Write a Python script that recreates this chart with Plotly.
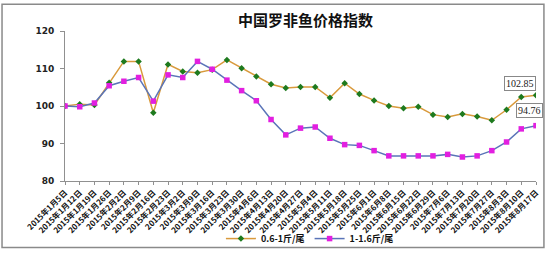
import plotly.graph_objects as go

dates = ["1月5日", "1月12日", "1月19日", "1月26日", "2月2日", "2月9日", "2月16日", "2月23日",
         "3月2日", "3月9日", "3月16日", "3月23日", "3月30日", "4月6日", "4月13日", "4月20日",
         "4月27日", "5月4日", "5月11日", "5月18日", "5月25日", "6月1日", "6月8日", "6月15日",
         "6月22日", "6月29日", "7月6日", "7月13日", "7月20日", "7月27日", "8月3日", "8月10日", "8月17日"]
categories = ["2015年" + d for d in dates]

small_fish = [100.0, 100.5, 100.3, 106.2, 111.9, 111.9, 98.2, 111.1, 109.2, 108.9, 109.7, 112.3,
              110.1, 107.9, 105.8, 104.8, 105.1, 105.1, 102.2, 106.1, 103.2, 101.5, 100.0, 99.4,
              99.8, 97.7, 97.1, 97.9, 97.2, 96.2, 99.0, 102.4, 102.85]
large_fish = [100.0, 99.8, 100.8, 105.4, 106.6, 107.6, 101.3, 108.3, 107.6, 111.9, 109.8, 106.9,
              104.1, 101.4, 96.4, 92.3, 94.1, 94.4, 91.4, 89.7, 89.5, 88.1, 86.7, 86.7,
              86.7, 86.7, 87.1, 86.4, 86.7, 88.1, 90.4, 93.9, 94.76]

series_names = ["0.6-1斤/尾", "1-1.6斤/尾"]
x_idx = list(range(len(categories)))

# pixel geometry helpers (plot area 65..540 x, 31..190.7 y)
L, R, T, B = 65, 540, 31, 190.7
def px(x):
    return (x - L) / (R - L)
def py(y):
    return (B - y) / (B - T)

fig = go.Figure()
fig.add_trace(go.Scatter(
    x=x_idx, y=small_fish, name=series_names[0], mode="lines+markers",
    line=dict(color="#D99A3C", width=1.5),
    marker=dict(symbol="diamond", size=5, color="#1E7A1E"),
))
fig.add_trace(go.Scatter(
    x=x_idx, y=large_fish, name=series_names[1], mode="lines+markers",
    line=dict(color="#5A74B8", width=1.5),
    marker=dict(symbol="square", size=5.5, color="#E21FE0"),
))

fig.add_annotation(x=x_idx[-1], y=small_fish[-1], text=f"{small_fish[-1]:.2f}", showarrow=False,
                   xshift=-16, yshift=12, font=dict(family="Liberation Serif", size=10, color="#222"),
                   bordercolor="#888", borderwidth=1, borderpad=1, bgcolor="white")
fig.add_annotation(x=x_idx[-1], y=large_fish[-1], text=f"{large_fish[-1]:.2f}", showarrow=False,
                   xshift=-7, yshift=15, font=dict(family="Liberation Serif", size=10, color="#222"),
                   bordercolor="#888", borderwidth=1, borderpad=1, bgcolor="white")

fig.add_annotation(xref="paper", yref="paper", x=px(307.5), y=py(19), text="<b>中国罗非鱼价格指数</b>",
                   showarrow=False, xanchor="center", yanchor="middle",
                   font=dict(family="Noto Sans CJK SC", size=15, color="#111"))

fig.add_shape(type="rect", xref="paper", yref="paper",
              x0=px(1.5), x1=px(548), y0=py(261.5), y1=py(2.5),
              line=dict(color="#8a8a8a", width=1.5), layer="below")

fig.update_layout(
    width=550, height=263,
    margin=dict(l=L, r=550 - R, t=T, b=263 - B),
    paper_bgcolor="white", plot_bgcolor="white",
    showlegend=True,
    legend=dict(orientation="h", x=px(312), y=py(252), xanchor="center", yanchor="middle",
                font=dict(family="Noto Sans CJK SC", size=9, color="#111", weight="bold"),
                itemwidth=30, bgcolor="rgba(0,0,0,0)", tracegroupgap=0),
    xaxis=dict(range=[0, len(categories) - 1], tickmode="array", tickvals=x_idx, ticktext=categories,
               tickangle=-45, showgrid=False, showline=True, linecolor="#909090", linewidth=1,
               ticks="outside", ticklen=3, tickcolor="#909090",
               tickfont=dict(family="Noto Sans CJK SC", size=8, color="#111", weight="bold"),
               zeroline=False),
    yaxis=dict(range=[80, 120], tickvals=[80, 90, 100, 110, 120], showgrid=False, showline=True,
               linecolor="#909090", linewidth=1, ticks="outside", ticklen=4, tickcolor="#909090",
               tickfont=dict(family="DejaVu Sans", size=9, color="#222", weight="bold"),
               ticklabelstandoff=4, zeroline=False),
)

fig.write_html("out.html")
